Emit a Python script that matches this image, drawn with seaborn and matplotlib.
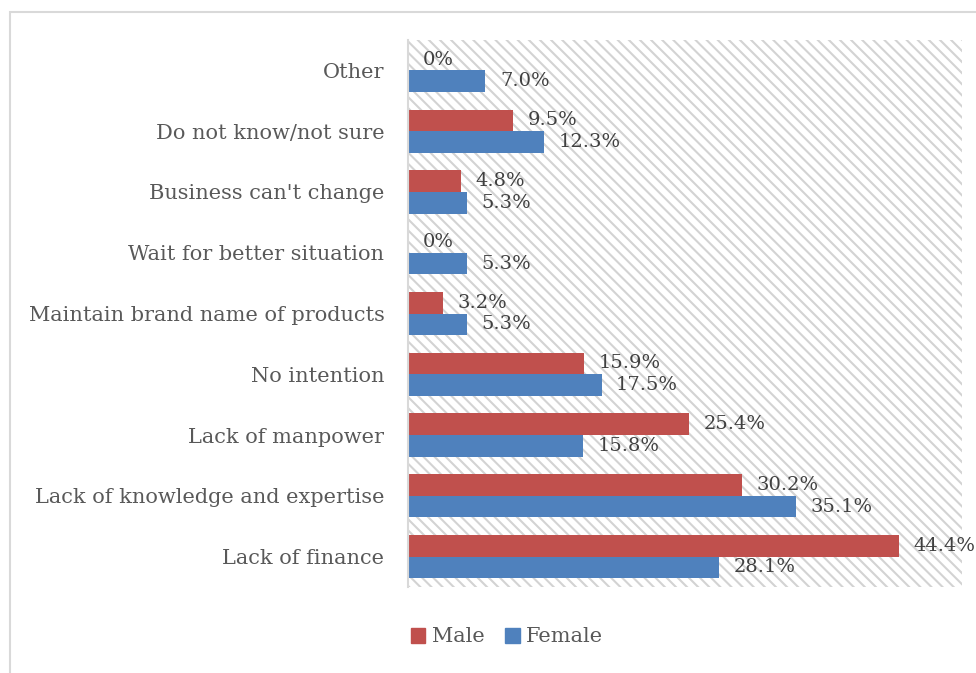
import matplotlib
matplotlib.use("Agg")
import matplotlib.pyplot as plt
import seaborn as sns
import pandas as pd
from matplotlib.patches import Rectangle

categories = ["Other", "Do not know/not sure", "Business can't change",
              "Wait for better situation", "Maintain brand name of products",
              "No intention", "Lack of manpower",
              "Lack of knowledge and expertise", "Lack of finance"]
male = [0, 9.5, 4.8, 0, 3.2, 15.9, 25.4, 30.2, 44.4]
female = [7.0, 12.3, 5.3, 5.3, 5.3, 17.5, 15.8, 35.1, 28.1]
series = ["Male", "Female"]
colors = ["#C0504D", "#4F81BD"]

df = pd.DataFrame({
    "category": categories * 2,
    "value": male + female,
    "gender": ["Male"] * len(categories) + ["Female"] * len(categories),
})

sns.set_style("white")
plt.rcParams["font.family"] = ["DejaVu Serif"]
plt.rcParams["hatch.color"] = "#D3D3D3"
plt.rcParams["hatch.linewidth"] = 1.5

W, H = 976, 673
fig = plt.figure(figsize=(W / 100, H / 100), dpi=100)
ax = fig.add_axes([408 / W, (H - 587) / H, 554 / W, 547 / H])

sns.barplot(data=df, y="category", x="value", hue="gender", order=categories,
            hue_order=series, palette=colors, orient="h", width=0.71,
            saturation=1, linewidth=0, ax=ax, legend=False)

ax.set_xlim(0, 50.1)
ax.set_xlabel("")
ax.set_ylabel("")
ax.set_xticks([])
ax.tick_params(axis="y", length=0, pad=17, labelsize=15, labelcolor="#595959")

ax.patch.set_facecolor("white")
ax.patch.set_hatch("\\\\\\")
ax.patch.set_edgecolor("#D3D3D3")
ax.patch.set_linewidth(0)
for s in ["top", "right", "bottom"]:
    ax.spines[s].set_visible(False)
ax.spines["left"].set_color("#D9D9D9")
ax.spines["left"].set_linewidth(1.5)

for cont, vals in zip(ax.containers, [male, female]):
    labels = ["0%" if v == 0 else f"{v:.1f}%" for v in vals]
    ax.bar_label(cont, labels=labels, padding=10.5, fontsize=14, color="#404040")

handles = [Rectangle((0, 0), 1, 1, color=c) for c in colors]
fig.legend(handles, series, loc="center left",
           bbox_to_anchor=(392 / W, 1 - 637 / H), ncol=2, frameon=False,
           handlelength=0.7, handleheight=0.7, handletextpad=0.3,
           columnspacing=1.0, fontsize=15, labelcolor="#595959")

border = Rectangle((9.5 / W, -0.1), 1.2, 1 - 11.5 / H + 0.1,
                   transform=fig.transFigure, fill=False,
                   edgecolor="#D9D9D9", linewidth=1.5)
fig.add_artist(border)

fig.savefig("out.png", dpi=100)
